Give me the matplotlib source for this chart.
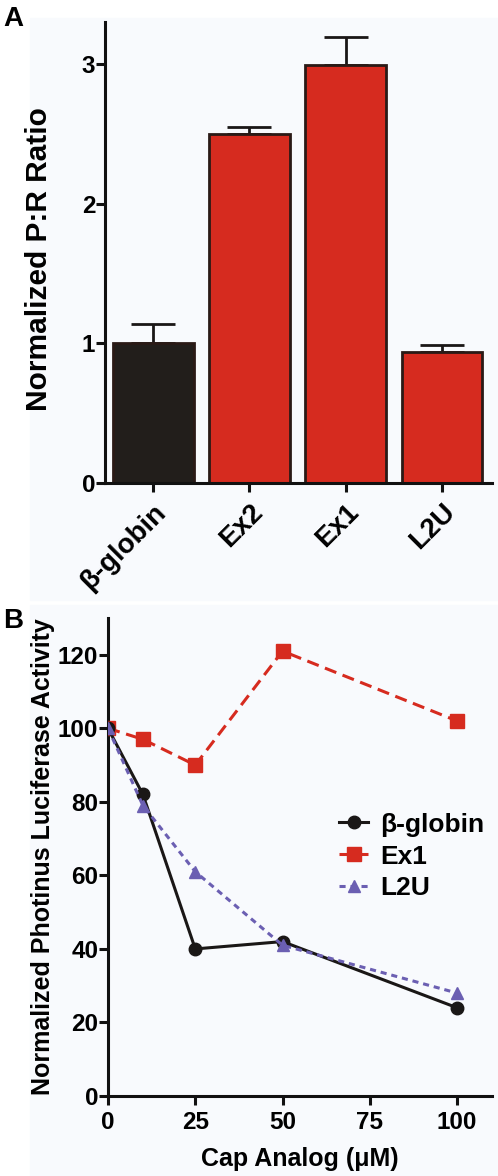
import matplotlib
matplotlib.use("Agg")
import matplotlib.pyplot as plt
from matplotlib.patches import Rectangle

plt.rcParams['font.family'] = ['Liberation Sans', 'DejaVu Sans']
plt.rcParams['font.weight'] = 'bold'
plt.rcParams['axes.labelweight'] = 'bold'

# Panel A data
constructs = ['β-globin', 'Ex2', 'Ex1', 'L2U']
pr_ratio = [1.0, 2.5, 2.99, 0.94]
pr_err = [0.14, 0.05, 0.20, 0.05]
bar_colors = ['#221e1b', '#d62b1f', '#d62b1f', '#d62b1f']

# Panel B data
cap_conc = [0, 10, 25, 50, 100]
globin_act = [100, 82, 40, 42, 24]
ex1_act = [100, 97, 90, 121, 102]
l2u_act = [100, 79, 61, 41, 28]

RED = '#d62b1f'
BLACK = '#1a1716'
PURPLE = '#6b5fb2'
BG = '#f8fafd'

fig = plt.figure(figsize=(4.98, 11.76), dpi=100)
fig.patches.append(Rectangle((30/498, 1-600/1176), 468/498, 582/1176,
                             transform=fig.transFigure, color=BG, zorder=-5))
fig.patches.append(Rectangle((30/498, 0), 468/498, 1-605/1176,
                             transform=fig.transFigure, color=BG, zorder=-5))


def style_axes(ax):
    for s in ['top', 'right']:
        ax.spines[s].set_visible(False)
    for s in ['left', 'bottom']:
        ax.spines[s].set_linewidth(2.2)
        ax.spines[s].set_color('#111111')
    ax.patch.set_alpha(0)
    ax.set_zorder(5)
    ax.tick_params(width=2.2, length=6.5, color='#111111', labelsize=17.5, pad=0.5)


# ---- Panel A ----
axA = fig.add_axes([105/498, 1-483/1176, 387/498, 461/1176])
x = range(len(constructs))
axA.bar(x, pr_ratio, width=0.84, color=bar_colors, edgecolor='#2a1a16',
        linewidth=2, zorder=2)
axA.errorbar(x, pr_ratio, yerr=[[0]*4, pr_err], fmt='none', ecolor='#1a1716',
             elinewidth=2, capsize=15.5, capthick=2, zorder=1)
axA.set_xlim(-0.5, 3.52)
axA.set_ylim(0, 3.3)
axA.set_yticks([0, 1, 2, 3])
axA.set_xticks(list(x))
axA.set_xticklabels(constructs, rotation=45, ha='right', rotation_mode='anchor')
style_axes(axA)
axA.tick_params(axis='x', labelsize=20, pad=5)
axA.set_ylabel('Normalized P:R Ratio', fontsize=21.5)
axA.yaxis.set_label_coords(-0.134, 0.486)
fig.text(3/498, 1-6/1176, 'A', fontsize=20, fontweight='bold', va='top')

# ---- Panel B ----
axB = fig.add_axes([108/498, 1-1096/1176, 384/498, 478/1176])
axB.plot(cap_conc, ex1_act, color=RED, lw=2.2, ls=(0, (4, 2.2)),
         marker='s', ms=10, label='Ex1', zorder=3)
axB.plot(cap_conc, globin_act, color=BLACK, lw=2.2, ls='-',
         marker='o', ms=9, label='β-globin', zorder=4)
axB.plot(cap_conc, l2u_act, color=PURPLE, lw=2.2, ls=(0, (2, 1.6)),
         marker='^', ms=9, label='L2U', zorder=5)
axB.set_xlim(0, 110)
axB.set_ylim(0, 130)
axB.set_xticks([0, 25, 50, 75, 100])
axB.set_yticks([0, 20, 40, 60, 80, 100, 120])
style_axes(axB)
axB.tick_params(axis='x', pad=4)
axB.set_xlabel('Cap Analog (μM)', fontsize=18, labelpad=10)
axB.set_ylabel('Normalized Photinus Luciferase Activity', fontsize=18)
axB.yaxis.set_label_coords(-0.138, 0.5)

h, l = axB.get_legend_handles_labels()
order = [1, 0, 2]
axB.legend([h[i] for i in order], [l[i] for i in order], loc='upper left',
           bbox_to_anchor=(0.575, 0.615), frameon=False, fontsize=19,
           handlelength=1.1, handletextpad=0.45, labelspacing=0.3,
           borderaxespad=0)
fig.text(3/498, 1-608/1176, 'B', fontsize=20, fontweight='bold', va='top')

fig.savefig('out.png', dpi=100, facecolor='white')
